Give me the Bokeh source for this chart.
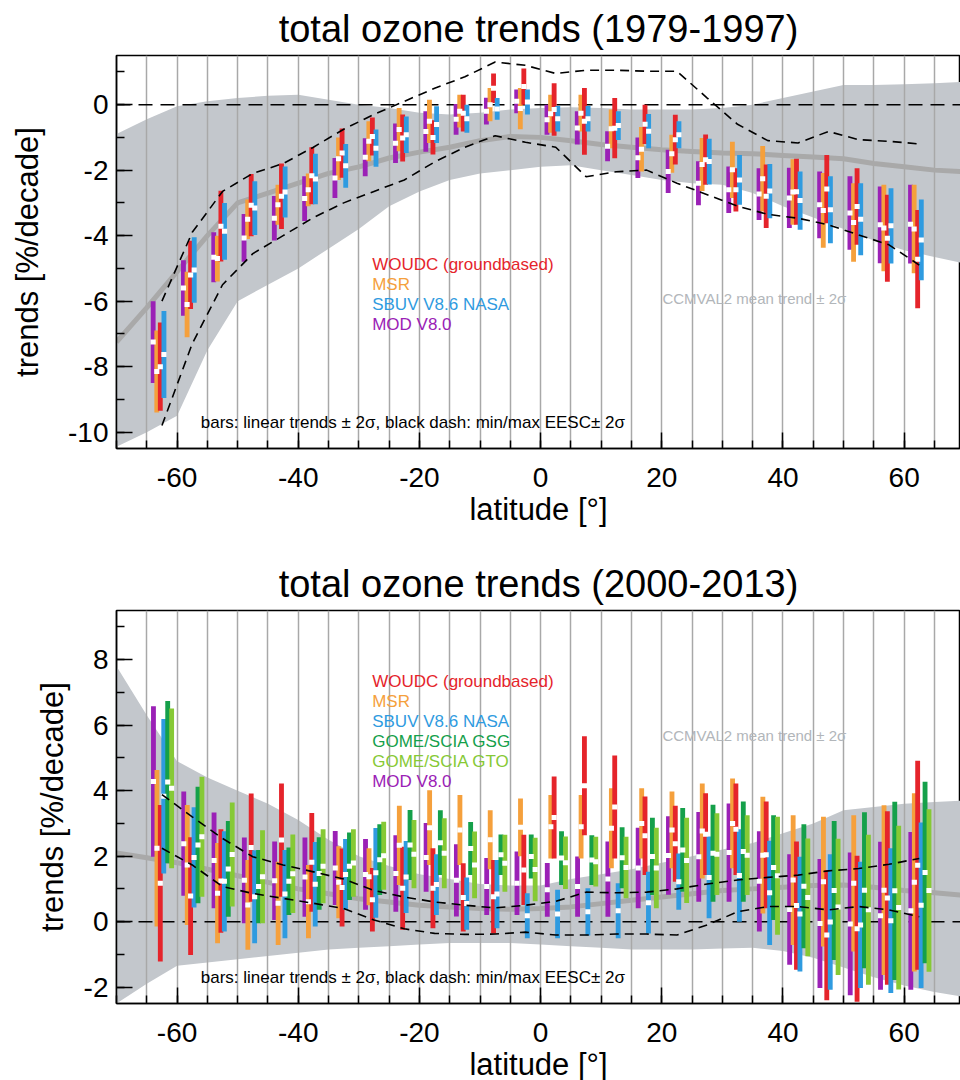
import numpy as np
from bokeh.plotting import figure
from bokeh.models import Span, Label, SingleIntervalTicker, Range1d, CustomJSTickFormatter
from bokeh.layouts import column
from bokeh.embed import file_html
from bokeh.resources import INLINE

FONT = "Liberation Sans"
RED, ORANGE, BLUE, PURPLE, DKGREEN, LTGREEN = "#e5242b", "#f5a03c", "#2f9be0", "#9b21b6", "#15a04a", "#86c935"
BAND, MEAN, GRID = "#c3c7cc", "#a9a9a9", "#a8a8a8"

lat_bins = [-62.5, -57.5, -52.5, -47.5, -42.5, -37.5, -32.5, -27.5, -22.5, -17.5, -12.5, -7.5, -2.5,
            2.5, 7.5, 12.5, 17.5, 22.5, 27.5, 32.5, 37.5, 42.5, 47.5, 52.5, 57.5, 62.5]

# ---------------- 1979-1997: trend (c) and 2 sigma (e) ----------------
t1_mod_c = [-7.25, -5.6, -4.66, -4.07, -3.47, -2.87, -2.24, -1.61, -1.18, -0.82, -0.45, -0.2, 0.1,
            -0.46, -0.71, -1.27, -1.62, -2.04, -2.4, -2.6, -2.73, -2.85, -3.06, -3.31, -3.67, -3.65]
t1_mod_e = [1.25, 0.85, 0.76, 0.73, 0.68, 0.68, 0.61, 0.58, 0.6, 0.62, 0.47, 0.41, 0.36,
            0.46, 0.51, 0.46, 0.62, 0.66, 0.67, 0.71, 0.79, 0.92, 1.02, 1.12, 1.17, 1.2]
t1_msr_c = [-8.15, -6.1, -4.7, -3.5, -3.06, -2.6, -1.65, -1.12, -0.76, -0.51, -0.2, 0.0, -0.12,
            -0.28, -0.26, -0.74, -1.36, -1.5, -1.83, -1.99, -2.26, -2.67, -3.23, -3.6, -3.77, -3.8]
t1_msr_e = [1.25, 1.0, 0.7, 0.6, 0.61, 0.5, 0.65, 0.61, 0.66, 0.66, 0.5, 0.51, 0.63,
            0.58, 0.56, 0.59, 0.68, 0.58, 0.81, 0.86, 1.0, 1.0, 1.14, 1.2, 1.32, 1.35]
t1_woudc_c = [-8.0, -5.2, -3.71, -3.07, -2.8, -2.17, -1.48, -0.97, -1.02, -1.0, -0.26, 0.5, 0.55,
              -0.15, -0.51, -0.72, -0.6, -1.07, -1.68, -2.6, -2.8, -2.66, -2.58, -3.11, -4.08, -4.72]
t1_woudc_e = [1.35, 1.04, 1.08, 0.95, 1.0, 0.87, 0.75, 0.58, 0.72, 0.52, 0.56, 0.45, 0.55,
              0.8, 1.02, 0.92, 0.6, 0.76, 0.77, 0.66, 0.97, 1.01, 1.04, 1.17, 1.33, 1.5]
t1_sbuv_c = [-7.63, -5.05, -3.87, -3.16, -2.67, -2.27, -1.87, -1.33, -0.92, -0.61, -0.43, -0.13, 0.08,
             -0.43, -0.43, -0.64, -0.81, -0.92, -1.74, -2.3, -2.64, -2.93, -3.21, -3.5, -3.7, -4.13]
t1_sbuv_e = [1.33, 1.0, 0.87, 0.82, 0.78, 0.77, 0.67, 0.57, 0.56, 0.56, 0.43, 0.33, 0.38,
             0.39, 0.39, 0.44, 0.52, 0.41, 0.7, 0.76, 0.83, 0.89, 1.02, 1.1, 1.15, 1.23]

# CCMVAL2 mean trend and +-2 sigma band (1979-1997)
ccm_lat = [-70, -65, -60, -55, -50, -45, -40, -35, -30, -25, -20, -15, -10, -5, 0,
           5, 10, 15, 20, 25, 30, 35, 40, 45, 50, 55, 60, 65, 70]
t1_ccm_mean = [-7.25, -6.2, -5.1, -4.0, -3.0, -2.7, -2.4, -2.1, -1.9, -1.63, -1.45, -1.3, -1.1, -0.97, -1.0,
               -1.1, -1.22, -1.3, -1.38, -1.43, -1.48, -1.5, -1.55, -1.6, -1.65, -1.8, -1.9, -2.0, -2.05]
t1_ccm_hi = [-0.9, -0.45, -0.05, 0.1, 0.2, 0.27, 0.3, 0.15, 0.0, -0.1, -0.25, -0.3, -0.25, -0.15, -0.1,
             -0.08, -0.1, -0.15, -0.15, -0.15, -0.1, 0.0, 0.2, 0.4, 0.6, 0.6, 0.62, 0.65, 0.7]
t1_ccm_lo = [-10.45, -10.0, -9.5, -7.5, -6.0, -5.5, -5.0, -4.4, -3.8, -3.1, -2.65, -2.3, -2.1, -2.0, -1.9,
             -1.85, -2.0, -2.15, -2.3, -2.4, -2.45, -2.7, -3.1, -3.45, -3.8, -4.15, -4.45, -4.65, -4.85]

# min/max EESC +-2 sigma (1979-1997)
t1_eesc_max = [-6.0, -3.9, -2.65, -2.1, -1.8, -1.3, -0.75, -0.3, 0.1, 0.5, 0.85, 1.3, 1.2,
               0.95, 1.05, 1.05, 1.02, 1.02, 0.2, -0.6, -1.1, -1.17, -0.82, -1.07, -1.12, -1.2]
t1_eesc_min = [-9.8, -7.3, -5.5, -4.55, -4.0, -3.45, -3.0, -2.65, -2.3, -1.75, -1.3, -0.95, -1.15,
               -1.3, -2.2, -2.05, -2.0, -2.4, -2.75, -3.1, -3.35, -3.47, -3.67, -3.98, -4.28, -4.9]

# ---------------- 2000-2013 ----------------
t2_mod_c = [4.28, 2.38, 1.87, 1.26, 1.25, 1.36, 1.64, 1.44, 1.47, 1.96, 1.26, 1.07, 1.17,
            0.97, 1.07, 1.3, 1.64, 2.02, 1.98, 2.11, 1.23, 0.37, -0.06, -0.07, 0.18, 0.33]
t2_mod_e = [2.3, 1.59, 1.46, 1.31, 1.2, 1.21, 1.13, 1.08, 1.17, 1.05, 1.1, 0.87, 0.97,
            0.82, 0.92, 1.15, 1.23, 1.2, 1.37, 1.5, 1.53, 1.69, 1.97, 2.18, 2.26, 2.41]
t2_msr_c = [2.24, 1.73, 0.87, 0.51, 0.56, 0.61, 1.2, 1.37, 2.33, 2.87, 2.8, 2.5, 2.88,
            2.9, 2.9, 2.85, 3.0, 2.8, 2.77, 3.0, 2.03, 1.27, 1.22, 1.17, 0.96, 1.2]
t2_msr_e = [2.39, 1.83, 1.53, 1.37, 1.27, 1.12, 1.1, 0.87, 1.21, 1.14, 1.07, 0.9, 0.88,
            0.97, 0.97, 1.22, 1.07, 1.17, 1.45, 1.37, 1.78, 1.98, 1.98, 2.08, 2.59, 2.72]
t2_woudc_c = [1.17, 0.78, 1.24, 2.26, 2.49, 1.81, 1.04, 0.67, 1.02, 1.02, 0.74, 0.76, 1.58,
              3.18, 4.15, 3.5, 2.62, 2.38, 2.67, 2.82, 2.04, 0.49, -0.41, -0.22, 0.72, 1.72]
t2_woudc_e = [2.39, 1.8, 1.58, 1.65, 1.73, 1.51, 1.19, 0.97, 1.27, 1.22, 1.04, 1.12, 1.07,
              1.25, 1.51, 1.57, 1.2, 1.16, 1.25, 1.4, 1.63, 1.96, 1.99, 2.23, 2.65, 3.19]
t2_sbuv_c = [3.83, 1.96, 1.23, 0.76, 0.84, 1.14, 1.44, 1.49, 1.36, 1.13, 0.55, 0.84, 0.18,
             0.23, 0.3, 0.33, 0.58, 1.22, 1.35, 1.41, 0.88, 0.23, -0.01, -0.1, 0.03, 0.5]
t2_sbuv_e = [2.36, 1.53, 1.53, 1.42, 1.35, 1.29, 1.08, 1.37, 1.1, 0.93, 0.8, 1.04, 0.69,
             0.74, 0.72, 0.84, 0.94, 0.86, 1.25, 1.41, 1.59, 1.75, 2.07, 1.93, 2.21, 2.53]
t2_gsg_c = [4.26, 2.34, 1.61, 1.07, 1.23, 1.47, 1.69, 1.89, 2.34, 2.41, 2.23, 2.04, 1.99,
            1.94, 1.88, 1.95, 1.99, 2.19, 2.09, 2.14, 1.65, 1.08, 0.95, 0.96, 0.94, 1.5]
t2_gsg_e = [2.48, 1.78, 1.46, 1.12, 1.03, 1.11, 1.03, 1.08, 1.07, 0.99, 0.81, 0.62, 0.67,
            0.82, 0.76, 0.93, 1.18, 1.28, 1.48, 1.53, 1.6, 1.89, 2.12, 2.38, 2.72, 2.77]
t2_gto_c = [4.07, 2.59, 2.05, 1.37, 1.46, 1.69, 1.79, 2.01, 2.06, 2.09, 1.73, 1.78, 1.59,
            1.8, 1.83, 1.65, 1.64, 1.87, 2.06, 2.03, 1.4, 0.74, 0.45, 0.36, 0.43, 0.95]
t2_gto_e = [2.44, 1.83, 1.59, 1.42, 1.2, 1.13, 1.03, 1.04, 1.04, 1.07, 1.02, 0.87, 0.97,
            0.8, 0.76, 0.94, 1.23, 1.3, 1.25, 1.22, 1.8, 1.8, 2.08, 2.29, 2.5, 2.48]

t2_ccm_mean = [2.1, 1.95, 1.8, 1.6, 1.4, 1.2, 1.0, 0.85, 0.7, 0.6, 0.5, 0.45, 0.4, 0.38, 0.4,
               0.45, 0.55, 0.65, 0.75, 0.85, 0.95, 1.0, 1.05, 1.1, 1.12, 1.05, 0.95, 0.88, 0.8]
t2_ccm_hi = [7.8, 6.3, 4.9, 4.4, 4.0, 3.6, 3.1, 2.5, 2.0, 1.7, 1.45, 1.3, 1.15, 1.1, 1.1,
             1.3, 1.45, 1.6, 1.8, 2.0, 2.2, 2.4, 2.7, 3.0, 3.4, 3.5, 3.6, 3.65, 3.7]
t2_ccm_lo = [-2.5, -1.9, -1.35, -1.25, -1.15, -1.05, -0.95, -0.85, -0.8, -0.75, -0.7, -0.65, -0.65, -0.65, -0.7,
             -0.75, -0.8, -0.85, -0.85, -0.85, -0.82, -0.8, -0.9, -1.1, -1.4, -1.7, -1.95, -2.15, -2.3]

t2_eesc_max = [3.88, 3.2, 2.54, 1.98, 1.73, 1.52, 1.3, 0.95, 0.75, 0.6, 0.5, 0.42, 0.5,
               0.62, 0.9, 0.88, 0.9, 1.0, 1.15, 1.27, 1.35, 1.42, 1.55, 1.62, 1.75, 1.93]
t2_eesc_min = [2.24, 1.73, 1.07, 0.86, 0.71, 0.56, 0.4, 0.05, -0.22, -0.36, -0.39, -0.38, -0.32,
               -0.41, -0.41, -0.38, -0.38, -0.41, -0.1, 0.3, 0.46, 0.46, 0.36, 0.46, 0.36, 0.15]


def make_fig(title, yr, top_border, bottom_border, ylabel_standoff):
    p = figure(frame_width=844, frame_height=393, x_range=Range1d(-70, 69.3), y_range=Range1d(*yr),
               output_backend="svg", toolbar_location=None,
               min_border_left=116, min_border_right=0, min_border_top=top_border,
               min_border_bottom=bottom_border)
    p.title.text = title
    p.title.text_font = FONT
    p.title.text_font_size = "38px"
    p.title.text_font_style = "normal"
    p.title.text_color = "black"
    p.title.align = "center"
    p.title.standoff = 11
    p.outline_line_color = "black"
    p.outline_line_width = 1.5
    p.ygrid.visible = False
    p.xgrid.ticker = SingleIntervalTicker(interval=5)
    p.xgrid.grid_line_color = GRID
    p.xgrid.grid_line_width = 1.5
    p.xaxis.ticker = SingleIntervalTicker(interval=20, num_minor_ticks=4)
    p.yaxis.ticker = SingleIntervalTicker(interval=2, num_minor_ticks=2)
    p.xaxis.axis_label = "latitude [°]"
    p.yaxis.axis_label = "trends [%/decade]"
    fmt = "return tick.toFixed(0);"
    for ax in (p.xaxis[0], p.yaxis[0]):
        ax.formatter = CustomJSTickFormatter(code=fmt)
        ax.major_tick_in = 16
        ax.major_tick_out = 0
        ax.minor_tick_in = 8
        ax.minor_tick_out = 0
        ax.major_tick_line_width = 1.5
        ax.minor_tick_line_width = 1.5
        ax.axis_line_width = 1.5
        ax.major_label_text_font = FONT
        ax.major_label_text_font_size = "28px"
        ax.major_label_text_color = "black"
        ax.axis_label_text_font = FONT
        ax.axis_label_text_font_size = "31px"
        ax.axis_label_text_font_style = "normal"
        ax.axis_label_text_color = "black"
    p.yaxis.major_label_standoff = 8
    p.yaxis.axis_label_standoff = ylabel_standoff
    p.xaxis.major_label_standoff = 19
    p.xaxis.axis_label_standoff = 2
    return p


def draw_panel(p, ccm_mean, ccm_hi, ccm_lo, eesc_max, eesc_min, series):
    band = p.varea(x=ccm_lat, y1=ccm_lo, y2=ccm_hi, fill_color=BAND)
    band.level = "image"
    p.line(ccm_lat, ccm_mean, line_color=MEAN, line_width=5)
    p.add_layout(Span(location=0, dimension="width", line_color="black", line_width=1.5,
                      line_dash="14 8", level="underlay"))
    lats = np.array(lat_bins)
    for c, e, col, off in series:
        c = np.array(c)
        e = np.array(e)
        p.vbar(x=lats + off, top=c + e, bottom=c - e, width=0.8, fill_color=col, line_color=None)
    for c, e, col, off in series:
        p.rect(x=lats + off, y=np.array(c), width=0.85, height=5, height_units="screen",
               fill_color="white", line_color=None)
    p.line(lat_bins, eesc_max, line_color="black", line_width=1.6, line_dash="9 6")
    p.line(lat_bins, eesc_min, line_color="black", line_width=1.6, line_dash="9 6")


def add_text(p, x, y, text, color, size):
    p.add_layout(Label(x=x, y=y, text=text, text_color=color, text_font=FONT,
                       text_font_size=size, text_baseline="middle", text_align="left"))


# ---------- top panel ----------
p1 = make_fig("total ozone trends (1979-1997)", (-10.5, 1.5), 53, 90, 20)
draw_panel(p1, t1_ccm_mean, t1_ccm_hi, t1_ccm_lo, t1_eesc_max, t1_eesc_min,
           [(t1_mod_c, t1_mod_e, PURPLE, -1.45),
            (t1_msr_c, t1_msr_e, ORANGE, -0.85),
            (t1_woudc_c, t1_woudc_e, RED, -0.27),
            (t1_sbuv_c, t1_sbuv_e, BLUE, 0.33)])
leg1 = [("WOUDC (groundbased)", RED), ("MSR", ORANGE), ("SBUV V8.6 NASA", BLUE), ("MOD V8.0", PURPLE)]
for i, (t, col) in enumerate(leg1):
    add_text(p1, -27.8, -4.89 - 0.611 * i, t, col, "17px")
add_text(p1, 20.1, -5.91, "CCMVAL2 mean trend ± 2σ", "#b2b6ba", "15px")
add_text(p1, -56.1, -9.72, "bars: linear trends ± 2σ, black dash: min/max EESC± 2σ", "black", "17px")

# ---------- bottom panel ----------
p2 = make_fig("total ozone trends (2000-2013)", (-2.5, 9.5), 72, 68, 11)
draw_panel(p2, t2_ccm_mean, t2_ccm_hi, t2_ccm_lo, t2_eesc_max, t2_eesc_min,
           [(t2_mod_c, t2_mod_e, PURPLE, -1.4),
            (t2_msr_c, t2_msr_e, ORANGE, -0.82),
            (t2_woudc_c, t2_woudc_e, RED, -0.27),
            (t2_sbuv_c, t2_sbuv_e, BLUE, 0.3),
            (t2_gsg_c, t2_gsg_e, DKGREEN, 0.95),
            (t2_gto_c, t2_gto_e, LTGREEN, 1.6)])
leg2 = [("WOUDC (groundbased)", RED), ("MSR", ORANGE), ("SBUV V8.6 NASA", BLUE),
        ("GOME/SCIA GSG", DKGREEN), ("GOME/SCIA GTO", LTGREEN), ("MOD V8.0", PURPLE)]
for i, (t, col) in enumerate(leg2):
    add_text(p2, -27.8, 7.32 - 0.607 * i, t, col, "17px")
add_text(p2, 20.1, 5.69, "CCMVAL2 mean trend ± 2σ", "#b2b6ba", "15px")
add_text(p2, -56.1, -1.71, "bars: linear trends ± 2σ, black dash: min/max EESC± 2σ", "black", "17px")

layout = column(p1, p2)
open("out.html", "w").write(file_html(layout, INLINE))
